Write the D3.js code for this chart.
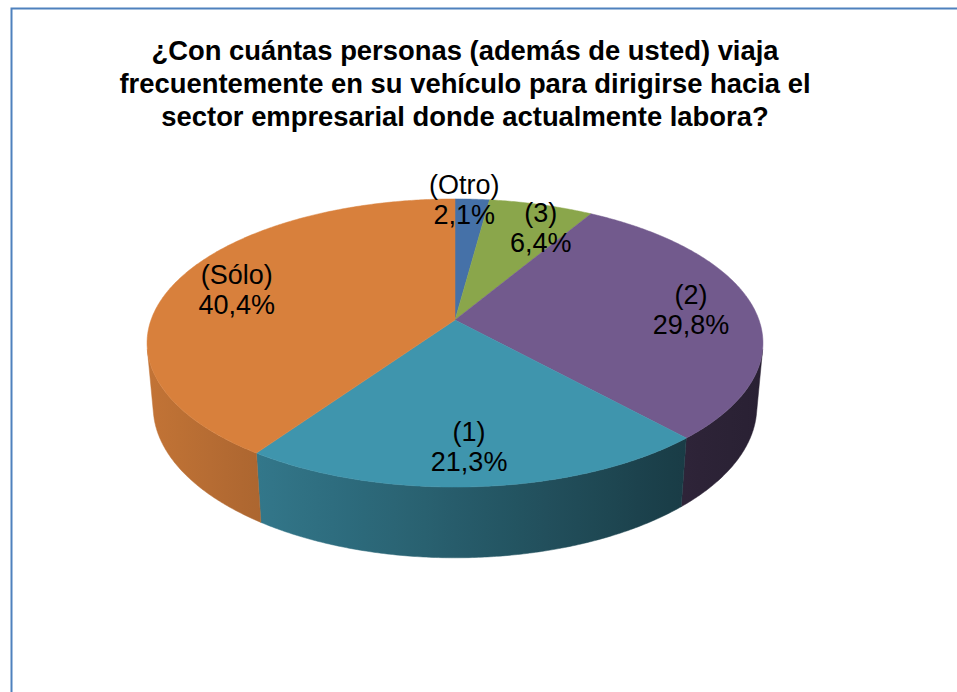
<!DOCTYPE html>
<html>
<head>
<meta charset="utf-8">
<script src="https://cdn.jsdelivr.net/npm/d3@7"></script>
<style>
  body { margin: 0; background: #fff; }
  text { font-family: Arial, "Liberation Sans", sans-serif; }
</style>
</head>
<body>
<div class="container"></div>
<script>
// data
var categories = ["(Otro)", "(3)", "(2)", "(1)", "(Sólo)"];
var values = [2.1, 6.4, 29.8, 21.3, 40.4];
var valueLabels = ["2,1%", "6,4%", "29,8%", "21,3%", "40,4%"];
var titleLines = [
  "¿Con cuántas personas (además de usted) viaja",
  "frecuentemente en su vehículo para dirigirse hacia el",
  "sector empresarial donde actualmente labora?"
];

var colors = ["#4571A8", "#8AA64B", "#725A8D", "#3F95AD", "#D8803C"];

var width = 957;
var height = 692;

var svg = d3
  .select(".container")
  .append("svg")
  .attr("width", width)
  .attr("height", height);

// chart frame (runs past the right/bottom edge of the window)
svg
  .append("rect")
  .attr("x", 11.5)
  .attr("y", 8.5)
  .attr("width", 1000)
  .attr("height", 1000)
  .attr("fill", "#fff")
  .attr("stroke", "#4F81BD")
  .attr("stroke-width", 2);

svg
  .append("g")
  .selectAll("text")
  .data(titleLines)
  .enter()
  .append("text")
  .attr("x", 465)
  .attr("y", function (d, i) {
    return 60 + i * 33;
  })
  .attr("text-anchor", "middle")
  .style("font-size", "27.4px")
  .style("font-weight", "bold")
  .text(function (d) {
    return d;
  });

// simple perspective camera looking down at a disk of radius 1
var cx = 455;
var cy = 320;
var phi = Math.acos(0.887); // elevation
var D = 5.556; // camera distance
var k = 1689; // focal scale
var thick = 0.238; // pie height

function project(X, Y, Z) {
  var depth = D - Y * Math.sin(phi) - Z * Math.cos(phi);
  var ys = Y * Math.cos(phi) - Z * Math.sin(phi);
  return [cx + (k * X) / depth, cy - (k * ys) / depth];
}

// point on rim, angle measured clockwise from the far side (d3.pie convention)
function rim(t, r, Y) {
  return project(r * Math.sin(t), Y, -r * Math.cos(t));
}

var pie = d3
  .pie()
  .sort(null)
  .value(function (d) {
    return d;
  });
var arcs = pie(values);

// shading of the outer wall, by screen position
var shade = d3
  .scaleLinear()
  .domain([-1, 0, 0.75, 1])
  .range([0.9, 0.62, 0.4, 0.36]);

var defs = svg.append("defs");
var left = rim(-Math.PI / 2, 1, 0)[0] - 2;
var right = rim(Math.PI / 2, 1, 0)[0] + 2;

arcs.forEach(function (a, i) {
  var g = defs
    .append("linearGradient")
    .attr("id", "side" + i)
    .attr("gradientUnits", "userSpaceOnUse")
    .attr("x1", left)
    .attr("x2", right)
    .attr("y1", 0)
    .attr("y2", 0);
  d3.range(0, 1.0001, 0.05).forEach(function (f) {
    var c = d3.rgb(colors[i]);
    var m = shade(f * 2 - 1);
    g.append("stop")
      .attr("offset", f)
      .attr("stop-color", d3.rgb(c.r * m, c.g * m, c.b * m).formatHex());
  });
});

// visible part of the wall
var ts = Math.acos(-1 / (D * Math.cos(phi)));
var te = 2 * Math.PI - ts;

var step = Math.PI / 360;
function arcPoints(t0, t1, r, Y) {
  var pts = [];
  var n = Math.max(2, Math.ceil(Math.abs(t1 - t0) / step));
  for (var j = 0; j <= n; j++) {
    pts.push(rim(t0 + ((t1 - t0) * j) / n, r, Y));
  }
  return pts;
}

var line = d3.line();

svg
  .append("g")
  .selectAll("path")
  .data(
    arcs.filter(function (a) {
      return a.endAngle > ts && a.startAngle < te;
    })
  )
  .enter()
  .append("path")
  .attr("d", function (a) {
    var t0 = Math.max(a.startAngle, ts);
    var t1 = Math.min(a.endAngle, te);
    var pts = arcPoints(t0, t1, 1, 0).concat(arcPoints(t1, t0, 1, -thick));
    return line(pts) + "Z";
  })
  .attr("fill", function (a) {
    return "url(#side" + a.index + ")";
  })
  .attr("stroke", function (a) {
    return "url(#side" + a.index + ")";
  })
  .attr("stroke-width", 0.5);

// top faces
svg
  .append("g")
  .selectAll("path")
  .data(arcs)
  .enter()
  .append("path")
  .attr("d", function (a) {
    var pts = [project(0, 0, 0)].concat(
      arcPoints(a.startAngle, a.endAngle, 1, 0)
    );
    return line(pts) + "Z";
  })
  .attr("fill", function (a) {
    return colors[a.index];
  })
  .attr("stroke", function (a) {
    return colors[a.index];
  })
  .attr("stroke-width", 0.5);

// data labels
var labelRadius = [1.0, 0.76, 0.79, 0.79, 0.78];
var labelShift = [[-8, 0], [18, -3], [0, 0], [-4, -1], [0, 0]];

var labels = svg
  .append("g")
  .selectAll("text")
  .data(arcs)
  .enter()
  .append("text")
  .attr("text-anchor", "middle")
  .style("font-size", "27px")
  .attr("transform", function (a) {
    var mid = (a.startAngle + a.endAngle) / 2;
    var p = rim(mid, labelRadius[a.index], 0);
    var s = labelShift[a.index];
    return "translate(" + (p[0] + s[0]) + "," + (p[1] + s[1]) + ")";
  });

labels
  .append("tspan")
  .attr("x", 0)
  .attr("y", -5)
  .text(function (a) {
    return categories[a.index];
  });

labels
  .append("tspan")
  .attr("x", 0)
  .attr("y", 25)
  .text(function (a) {
    return valueLabels[a.index];
  });
</script>
</body>
</html>
